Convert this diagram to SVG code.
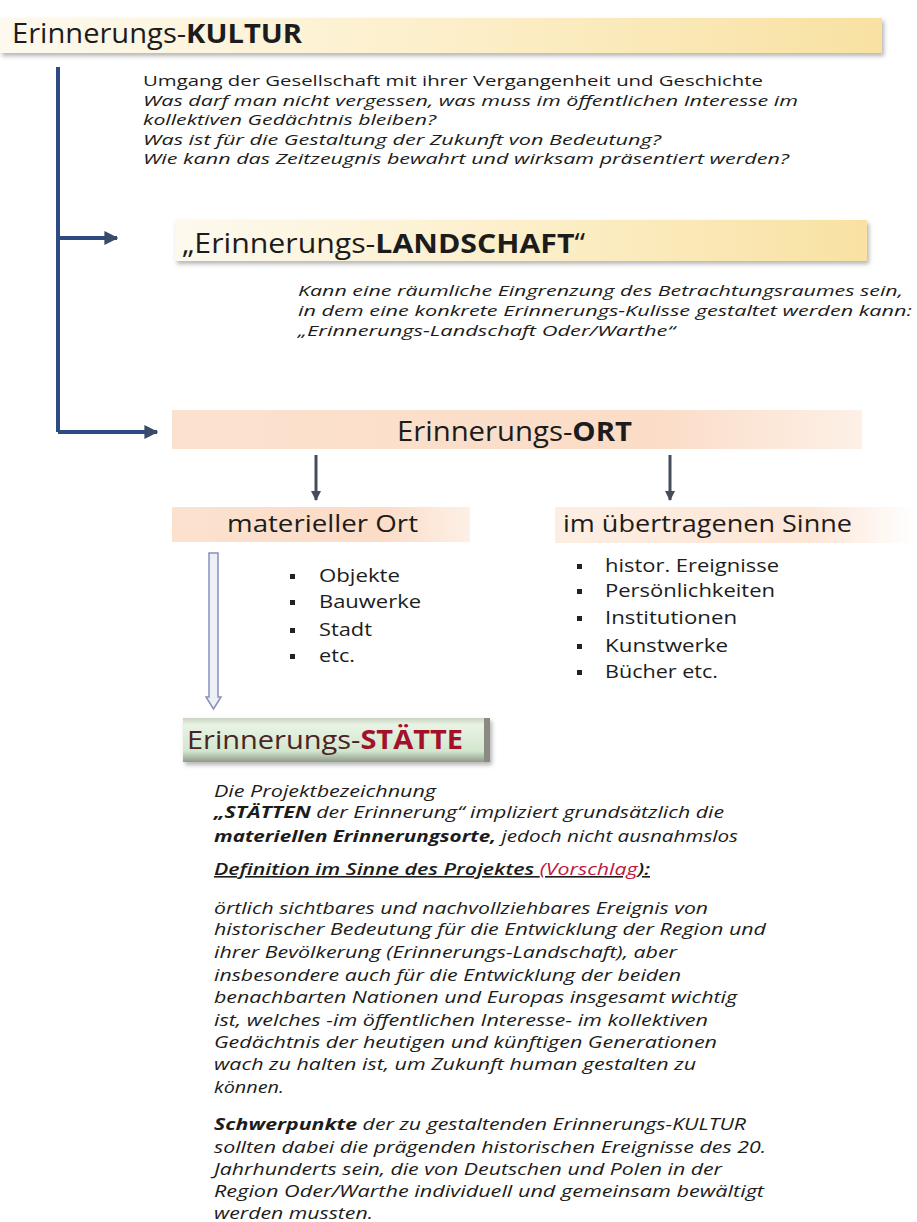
<svg xmlns="http://www.w3.org/2000/svg" width="917" height="1222" viewBox="0 0 917 1222">
<style>
text{font-family:"Open Sans","Noto Sans","Liberation Sans",sans-serif;fill:#1c1c1c}
.h{font-size:27px}
.p{font-size:15px}
.q{font-size:16px}
.i{font-style:italic}
.b{font-weight:bold}
.sub{font-size:23px}
.li{font-size:17.5px}
.bul{fill:#222}
.conn{stroke:#2d4a82;stroke-width:4;fill:none}
.darr{stroke:#454c5c;stroke-width:3;fill:none}
</style>
<defs>
<linearGradient id="yel" x1="0" y1="0" x2="1" y2="0">
<stop offset="0" stop-color="#fdf9ee"/>
<stop offset="0.5" stop-color="#fcefca"/>
<stop offset="1" stop-color="#f8e1a2"/>
</linearGradient>
<linearGradient id="peach" x1="0" y1="0" x2="1" y2="0">
<stop offset="0" stop-color="#fbe2cf"/>
<stop offset="0.7" stop-color="#fbdcc7"/>
<stop offset="1" stop-color="#fdf0e6"/>
</linearGradient>
<linearGradient id="peach2" x1="0" y1="0" x2="1" y2="0">
<stop offset="0" stop-color="#fdeee3"/>
<stop offset="0.7" stop-color="#fce6d6"/>
<stop offset="1" stop-color="#ffffff"/>
</linearGradient>
<linearGradient id="green" x1="0" y1="0" x2="0" y2="1">
<stop offset="0" stop-color="#c9d3c1"/>
<stop offset="0.15" stop-color="#e9f3e5"/>
<stop offset="0.75" stop-color="#d2e6ce"/>
<stop offset="1" stop-color="#8f9b89"/>
</linearGradient>
<filter id="sh" x="-5%" y="-20%" width="110%" height="160%">
<feDropShadow dx="2" dy="3" stdDeviation="2" flood-color="#777" flood-opacity="0.55"/>
</filter>
<marker id="ah" viewBox="0 0 10 10" refX="9" refY="5" markerWidth="3.5" markerHeight="3.5" orient="auto">
<path d="M0,0 L10,5 L0,10 Z" fill="#3a4a6a"/>
</marker>
<marker id="ahd" viewBox="0 0 10 10" refX="9" refY="5" markerWidth="3.5" markerHeight="3.5" orient="auto">
<path d="M0,0 L10,5 L0,10 Z" fill="#454c5c"/>
</marker>
</defs>
<rect width="917" height="1222" fill="#ffffff"/>

<g id="connectors">
<path class="conn" d="M58,67 V432"/>
<path class="conn" d="M58,238 H117" stroke="#3a4a6a" stroke-width="3" marker-end="url(#ah)"/>
<path class="conn" d="M58,432 H157" marker-end="url(#ah)"/>
<path class="darr" d="M316,455 V500" marker-end="url(#ahd)"/>
<path class="darr" d="M670,455 V500" marker-end="url(#ahd)"/>
<path d="M209,553 H218 V697 H221 L213.5,709 L206,697 H209 Z" fill="#eef0f8" stroke="#8890bb" stroke-width="1.5"/>
</g>

<g id="kultur">
<rect x="0" y="18" width="882" height="35" fill="url(#yel)" filter="url(#sh)"/>
<text class="h" x="12" y="43" textLength="290" lengthAdjust="spacingAndGlyphs">Erinnerungs-<tspan class="b">KULTUR</tspan></text>
</g>

<g id="kultur-text" class="p">
<text x="143" y="86" textLength="620" lengthAdjust="spacingAndGlyphs">Umgang der Gesellschaft mit ihrer Vergangenheit und Geschichte</text>
<text class="i" x="143" y="105.5" textLength="655" lengthAdjust="spacingAndGlyphs">Was darf man nicht vergessen, was muss im öffentlichen Interesse im</text>
<text class="i" x="143" y="125" textLength="293" lengthAdjust="spacingAndGlyphs">kollektiven Gedächtnis bleiben?</text>
<text class="i" x="143" y="144.5" textLength="518" lengthAdjust="spacingAndGlyphs">Was ist für die Gestaltung der Zukunft von Bedeutung?</text>
<text class="i" x="143" y="164" textLength="646" lengthAdjust="spacingAndGlyphs">Wie kann das Zeitzeugnis bewahrt und wirksam  präsentiert werden?</text>
</g>

<g id="landschaft">
<rect x="175" y="220" width="692" height="41" fill="url(#yel)" filter="url(#sh)"/>
<text class="h" x="182" y="253" textLength="403" lengthAdjust="spacingAndGlyphs">„Erinnerungs-<tspan class="b">LANDSCHAFT</tspan>“</text>
</g>

<g id="landschaft-text" class="p">
<text class="i" x="298" y="296" textLength="605" lengthAdjust="spacingAndGlyphs">Kann eine räumliche Eingrenzung des Betrachtungsraumes sein,</text>
<text class="i" x="298" y="316" textLength="614" lengthAdjust="spacingAndGlyphs">in dem eine konkrete Erinnerungs-Kulisse  gestaltet werden kann:</text>
<text class="i" x="298" y="336" textLength="377" lengthAdjust="spacingAndGlyphs">„Erinnerungs-Landschaft  Oder/Warthe“</text>
</g>

<g id="ort">
<rect x="172" y="410" width="690" height="39" fill="url(#peach)"/>
<text class="h" x="397" y="441" textLength="235" lengthAdjust="spacingAndGlyphs">Erinnerungs-<tspan class="b">ORT</tspan></text>
</g>

<g id="materieller-ort">
<rect x="172" y="507" width="298" height="35" fill="url(#peach)"/>
<text class="sub" x="227" y="532" textLength="191" lengthAdjust="spacingAndGlyphs">materieller Ort</text>
<g class="li">
<rect class="bul" x="290" y="574" width="5" height="5"/>
<text x="319" y="582" textLength="81" lengthAdjust="spacingAndGlyphs">Objekte</text>
<rect class="bul" x="290" y="600" width="5" height="5"/>
<text x="319" y="608" textLength="102" lengthAdjust="spacingAndGlyphs">Bauwerke</text>
<rect class="bul" x="290" y="628" width="5" height="5"/>
<text x="319" y="636" textLength="53" lengthAdjust="spacingAndGlyphs">Stadt</text>
<rect class="bul" x="290" y="654" width="5" height="5"/>
<text x="319" y="662" textLength="36" lengthAdjust="spacingAndGlyphs">etc.</text>
</g>
</g>

<g id="uebertragen">
<rect x="555" y="507" width="362" height="36" fill="url(#peach2)"/>
<text class="sub" x="563" y="532" textLength="289" lengthAdjust="spacingAndGlyphs">im übertragenen Sinne</text>
<g class="li">
<rect class="bul" x="577" y="564" width="5" height="5"/>
<text x="605" y="572" textLength="174" lengthAdjust="spacingAndGlyphs">histor. Ereignisse</text>
<rect class="bul" x="577" y="589" width="5" height="5"/>
<text x="605" y="597" textLength="170" lengthAdjust="spacingAndGlyphs">Persönlichkeiten</text>
<rect class="bul" x="577" y="616" width="5" height="5"/>
<text x="605" y="624" textLength="132" lengthAdjust="spacingAndGlyphs">Institutionen</text>
<rect class="bul" x="577" y="644" width="5" height="5"/>
<text x="605" y="652" textLength="123" lengthAdjust="spacingAndGlyphs">Kunstwerke</text>
<rect class="bul" x="577" y="670" width="5" height="5"/>
<text x="605" y="678" textLength="113" lengthAdjust="spacingAndGlyphs">Bücher etc.</text>
</g>
</g>

<g id="staette">
<rect x="183" y="718" width="307" height="44" fill="url(#green)" filter="url(#sh)"/>
<rect x="484" y="718" width="6" height="44" fill="#8a8a80"/>
<text x="187" y="749" font-size="26" textLength="276" lengthAdjust="spacingAndGlyphs" style="fill:#4a2424">Erinnerungs-<tspan class="b" style="fill:#a3102a">STÄTTE</tspan></text>
</g>

<g id="staette-text" class="q i">
<text x="214" y="797" textLength="222" lengthAdjust="spacingAndGlyphs">Die Projektbezeichnung</text>
<text x="214" y="818" textLength="510" lengthAdjust="spacingAndGlyphs"><tspan class="b">„STÄTTEN</tspan> der Erinnerung“ impliziert grundsätzlich die</text>
<text x="214" y="842" textLength="524" lengthAdjust="spacingAndGlyphs"><tspan class="b">materiellen  Erinnerungsorte,</tspan> jedoch nicht ausnahmslos</text>
<text x="214" y="875" textLength="436" lengthAdjust="spacingAndGlyphs" text-decoration="underline" font-weight="600">Definition  im Sinne des Projektes <tspan style="fill:#c0173f" font-weight="normal">(Vorschlag</tspan>):</text>
<text x="214" y="914" textLength="494" lengthAdjust="spacingAndGlyphs">örtlich sichtbares und nachvollziehbares Ereignis von</text>
<text x="214" y="935" textLength="552" lengthAdjust="spacingAndGlyphs">historischer Bedeutung für die Entwicklung der Region und</text>
<text x="214" y="958" textLength="463" lengthAdjust="spacingAndGlyphs">ihrer Bevölkerung (Erinnerungs-Landschaft),  aber</text>
<text x="214" y="981" textLength="467" lengthAdjust="spacingAndGlyphs">insbesondere auch für die Entwicklung der beiden</text>
<text x="214" y="1003" textLength="523" lengthAdjust="spacingAndGlyphs">benachbarten Nationen und Europas insgesamt wichtig</text>
<text x="214" y="1026" textLength="494" lengthAdjust="spacingAndGlyphs">ist, welches -im öffentlichen Interesse- im kollektiven</text>
<text x="214" y="1048" textLength="503" lengthAdjust="spacingAndGlyphs">Gedächtnis der heutigen und künftigen Generationen</text>
<text x="214" y="1070" textLength="482" lengthAdjust="spacingAndGlyphs">wach zu halten ist, um Zukunft human gestalten zu</text>
<text x="214" y="1093" textLength="70" lengthAdjust="spacingAndGlyphs">können.</text>
<text x="214" y="1130" textLength="532" lengthAdjust="spacingAndGlyphs"><tspan class="b">Schwerpunkte</tspan> der zu gestaltenden Erinnerungs-KULTUR</text>
<text x="214" y="1153" textLength="552" lengthAdjust="spacingAndGlyphs">sollten dabei die prägenden historischen Ereignisse des 20.</text>
<text x="214" y="1175" textLength="508" lengthAdjust="spacingAndGlyphs">Jahrhunderts sein, die von Deutschen und Polen in der</text>
<text x="214" y="1197" textLength="550" lengthAdjust="spacingAndGlyphs">Region Oder/Warthe individuell und gemeinsam bewältigt</text>
<text x="214" y="1219" textLength="159" lengthAdjust="spacingAndGlyphs">werden mussten.</text>
</g>
</svg>
